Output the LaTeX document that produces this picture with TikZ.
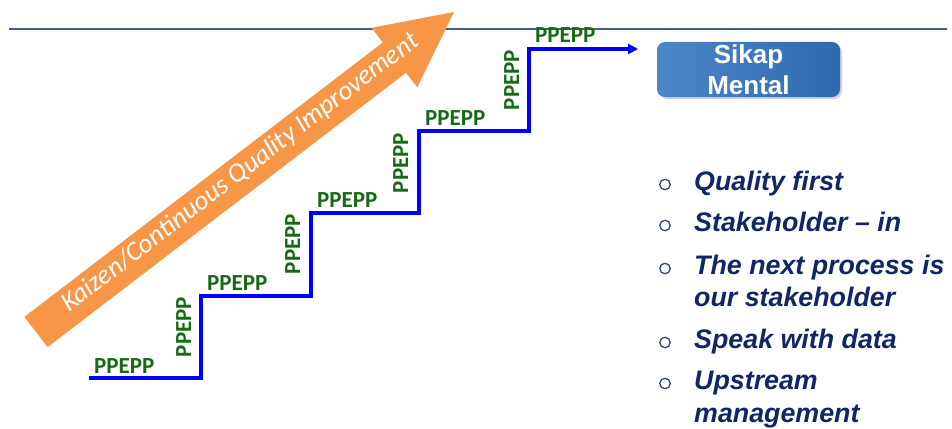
\documentclass[tikz,border=0pt]{standalone}
\usepackage{fontspec}
\setmainfont{Liberation Sans}
\newfontfamily\carlito{Carlito}
\usetikzlibrary{arrows.meta,shadows}
\definecolor{hline}{RGB}{62,96,140}
\definecolor{kaiorange}{RGB}{247,150,70}
\definecolor{stepgreen}{RGB}{22,106,22}
\definecolor{navy}{RGB}{16,38,102}
\definecolor{boxL}{RGB}{78,134,200}
\definecolor{boxR}{RGB}{46,106,176}
\begin{document}
\begin{tikzpicture}[x=1pt,y=-1pt,
  hlab/.style={anchor=base west, inner sep=0pt, font=\carlito\bfseries\fontsize{23}{23}\selectfont, text=stepgreen},
  vlab/.style={anchor=base, rotate=90, inner sep=0pt, font=\carlito\bfseries\fontsize{23}{23}\selectfont, text=stepgreen},
  item/.style={anchor=base west, inner sep=0pt, font=\bfseries\itshape\fontsize{26.8}{26.8}\selectfont, text=navy},
  bul/.style={circle, draw=navy!85!white, line width=1.3pt, minimum size=10.5pt, inner sep=0pt},
  stair/.style={blue, line width=4pt, line join=miter, -{Triangle[length=10pt,width=10pt]}}
]
\useasboundingbox (0,0) rectangle (952,428);
\fill[white] (0,0) rectangle (952,428);
% top rule
\coordinate (l1) at (9,29);
\coordinate (l2) at (947,29);
\draw[hline, line width=2pt] (l1) -- (l2);
% orange arrow
\fill[kaiorange] (24.4,316.9) -- (382.8,42.5) -- (371.6,27.8) -- (454,12) -- (417.2,87.4) -- (406,72.7) -- (47.6,347.1) -- cycle;
\node[rotate=37.4, anchor=base, inner sep=0pt, text=white, font=\carlito\itshape\fontsize{27}{27}\selectfont] (kz) at (244.7,178.6) {Kaizen/Continuous Quality Improvement};
% stairs
\coordinate (s0) at (89,378);
\coordinate (s1) at (201,378);
\coordinate (s2) at (201,296);
\coordinate (s3) at (311,296);
\coordinate (s4) at (311,213);
\coordinate (s5) at (419,213);
\coordinate (s6) at (419,131);
\coordinate (s7) at (529,131);
\coordinate (s8) at (529,49);
\coordinate (s9) at (638,49);
\draw[stair] (s0) -- (s1) -- (s2) -- (s3) -- (s4) -- (s5) -- (s6) -- (s7) -- (s8) -- (s9);
% labels
\node[hlab] (h1) at (94,373) {PPEPP};
\node[hlab] (h2) at (207,290) {PPEPP};
\node[hlab] (h3) at (317,207) {PPEPP};
\node[hlab] (h4) at (425,125) {PPEPP};
\node[hlab] (h5) at (535,43) {PPEPP};
\node[vlab] (v1) at (191,327) {PPEPP};
\node[vlab] (v2) at (300,244) {PPEPP};
\node[vlab] (v3) at (408,163) {PPEPP};
\node[vlab] (v4) at (519,80) {PPEPP};
% Sikap Mental box
\node[rounded corners=8pt, minimum width=183pt, minimum height=55pt, left color=boxL, right color=boxR,
  drop shadow={opacity=0.35, shadow xshift=2pt, shadow yshift=-2pt},
  text=white, font=\bfseries\fontsize{26}{31}\selectfont, align=center, inner sep=0pt] (sm) at (748.5,69.5) {Sikap\\Mental};
% bullets
\node[bul] (b1) at (665,184.5) {};
\node[item] (t1) at (694,190) {Quality first};
\node[bul] (b2) at (665,225.5) {};
\node[item] (t2) at (694,231) {Stakeholder – in};
\node[bul] (b3) at (665,268.5) {};
\node[item] (t3a) at (694,274) {The next process is};
\node[item] (t3b) at (694,306) {our stakeholder};
\node[bul] (b4) at (665,342.5) {};
\node[item] (t4) at (694,348) {Speak with data};
\node[bul] (b5) at (665,383.5) {};
\node[item] (t5a) at (694,389) {Upstream};
\node[item] (t5b) at (694,422) {management};
\end{tikzpicture}
\end{document}
